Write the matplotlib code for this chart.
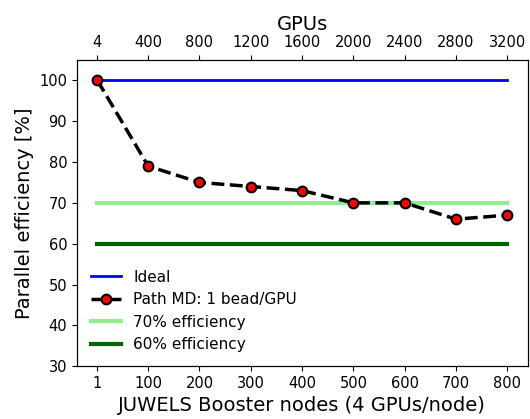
import matplotlib
matplotlib.use("Agg")
import matplotlib.pyplot as plt

# Data
nodes = [1, 100, 200, 300, 400, 500, 600, 700, 800]
gpus = [4, 400, 800, 1200, 1600, 2000, 2400, 2800, 3200]
efficiency = [100, 79, 75, 74, 73, 70, 70, 66, 67]
ideal = [100] * len(nodes)
eff70 = [70] * len(nodes)
eff60 = [60] * len(nodes)

fig, ax = plt.subplots(figsize=(5.3, 4.19), dpi=100)
fig.subplots_adjust(left=0.145, right=0.996, top=0.857, bottom=0.126)

ax.plot(nodes, ideal, color="blue", lw=2, label="Ideal")
ax.plot(nodes, efficiency, "k--", lw=2.5, marker="o", markersize=7,
        markerfacecolor="red", markeredgecolor="black", markeredgewidth=1.5,
        label="Path MD: 1 bead/GPU", zorder=5)
ax.plot(nodes, eff70, color="lightgreen", lw=3, label="70% efficiency")
ax.plot(nodes, eff60, color="darkgreen", lw=3, label="60% efficiency")

ax.set_ylim(30, 105)
ax.set_xticks(nodes)
ax.set_xticklabels([str(n) for n in nodes])
ax.tick_params(labelsize=10.5)
ax.set_xlabel("JUWELS Booster nodes (4 GPUs/node)", fontsize=14)
ax.set_ylabel("Parallel efficiency [%]", fontsize=14)

ax2 = ax.twiny()
ax2.set_xlim(ax.get_xlim())
ax2.set_xticks(nodes)
ax2.set_xticklabels([str(g) for g in gpus])
ax2.tick_params(labelsize=10.5)
ax2.set_xlabel("GPUs", fontsize=14)

ax.legend(loc="lower left", frameon=False, fontsize=11)

plt.savefig("out.png")
